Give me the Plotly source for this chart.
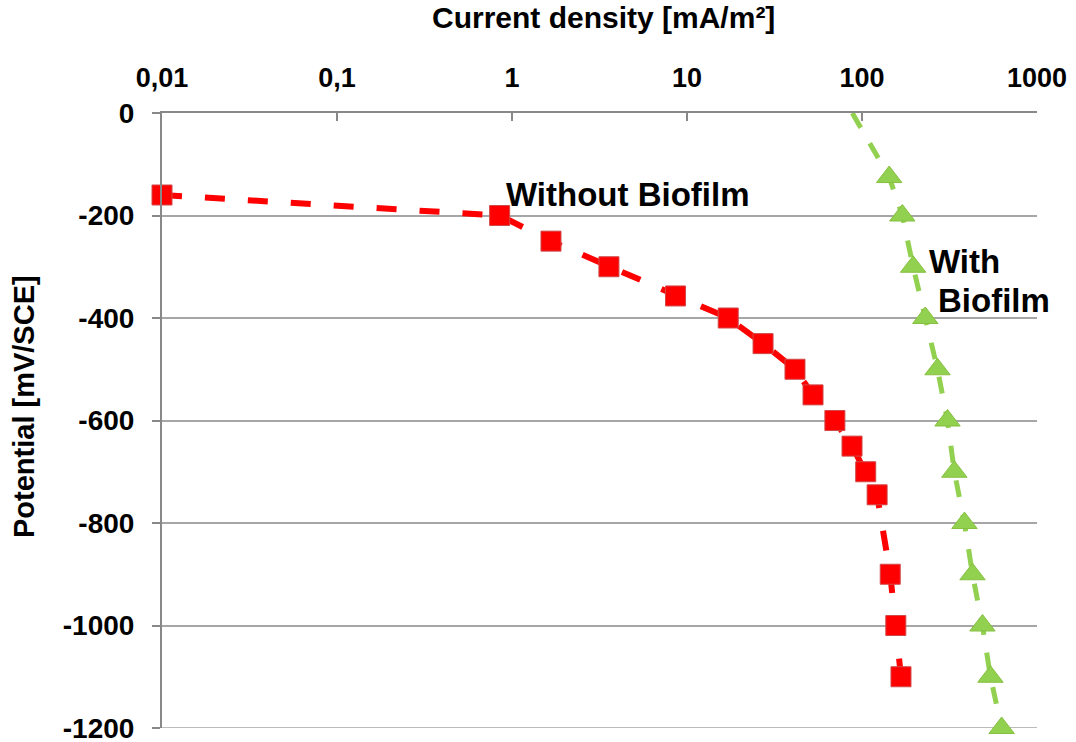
import plotly.graph_objects as go

# Data
x_ticks = [0.01, 0.1, 1, 10, 100, 1000]
x_tick_labels = ["0,01", "0,1", "1", "10", "100", "1000"]
y_ticks = [0, -200, -400, -600, -800, -1000, -1200]
y_tick_labels = ["0", "-200", "-400", "-600", "-800", "-1000", "-1200"]

without_x = [0.01, 0.85, 1.67, 3.58, 8.6, 17.2, 27.2, 41.4, 52.5, 70, 87.7, 105, 122, 145, 156, 167]
without_y = [-160, -200, -250, -300, -357, -400, -450, -500, -550, -600, -650, -700, -745, -900, -1000, -1100]

with_x = [88, 143, 170, 196, 230, 270, 308, 337, 385, 428, 488, 542, 628]
with_y = [0, -125, -200, -300, -400, -500, -600, -700, -800, -900, -1000, -1100, -1200]

RED = "#FF0000"
GREEN = "#92D050"
GRID = "#A6A6A6"
AXIS = "#888888"
FONT = "Liberation Sans, Arial, sans-serif"

W, H = 1076, 742
L, R, T, B = 162, 39, 113, 14
PW, PH = W - L - R, H - T - B


def px(xp):
    return (xp - L) / PW


def py(yp):
    return (H - B - yp) / PH


fig = go.Figure()

# Without biofilm: dashed line + square markers
fig.add_trace(go.Scatter(
    x=without_x, y=without_y, mode="lines",
    line=dict(color=RED, width=6, dash="20px,23px"),
    hoverinfo="skip", showlegend=False, cliponaxis=False,
))
fig.add_trace(go.Scatter(
    x=without_x, y=without_y, mode="markers",
    marker=dict(symbol="square", size=20, color=RED,
                line=dict(color="#D04848", width=1)),
    showlegend=False, cliponaxis=False,
))

# With biofilm: dashed line + triangle markers (first point has no marker)
fig.add_trace(go.Scatter(
    x=with_x, y=with_y, mode="lines",
    line=dict(color=GREEN, width=5, dash="17px,18px"),
    hoverinfo="skip", showlegend=False, cliponaxis=True,
))
fig.add_trace(go.Scatter(
    x=with_x[1:], y=with_y[1:], mode="markers",
    marker=dict(symbol="triangle-up", size=22, color=GREEN,
                line=dict(color="#86C040", width=1)),
    showlegend=False, cliponaxis=False,
))

fig.update_layout(
    width=W, height=H,
    margin=dict(l=L, r=R, t=T, b=B),
    paper_bgcolor="white", plot_bgcolor="white",
    font=dict(family=FONT, color="black", size=27),
    xaxis=dict(
        type="log", range=[-2, 3], side="top",
        tickvals=x_ticks, ticktext=x_tick_labels,
        ticks="inside", ticklen=8, tickwidth=1.5, tickcolor=AXIS,
        showline=True, linecolor=AXIS, linewidth=2,
        showgrid=False, zeroline=False, automargin=False,
        tickfont=dict(family=FONT, size=27, weight="bold"),
        ticklabelstandoff=13, ticklabeloverflow="allow",
    ),
    yaxis=dict(
        range=[-1200, 0], tickvals=y_ticks, ticktext=y_tick_labels,
        ticks="outside", ticklen=8, tickwidth=1.5, tickcolor=AXIS,
        showline=True, linecolor=AXIS, linewidth=2,
        showgrid=True, gridcolor=GRID, gridwidth=1.5,
        zeroline=False, automargin=False,
        tickfont=dict(family=FONT, size=28, weight="bold"),
        ticklabelstandoff=12, ticklabeloverflow="allow",
    ),
    shapes=[
        dict(type="line", xref="paper", yref="y", x0=0, x1=1,
             y0=y_ticks[-1], y1=y_ticks[-1],
             line=dict(color=GRID, width=1.5), layer="below"),
    ],
    annotations=[
        dict(text="Current density [mA/m²]", xref="paper", yref="paper",
             x=px(603), y=py(17), xanchor="center", yanchor="middle",
             showarrow=False, font=dict(family=FONT, size=30, weight="bold")),
        dict(text="Potential [mV/SCE]", xref="paper", yref="paper",
             x=px(24), y=py(407), xanchor="center", yanchor="middle",
             textangle=-90, showarrow=False,
             font=dict(family=FONT, size=29, weight="bold")),
        dict(text="Without Biofilm", xref="paper", yref="paper",
             x=px(504), y=py(194), xanchor="left", yanchor="middle",
             showarrow=False, font=dict(family=FONT, size=33, weight="bold")),
        dict(text="With", xref="paper", yref="paper",
             x=px(927), y=py(261), xanchor="left", yanchor="middle",
             showarrow=False, font=dict(family=FONT, size=33, weight="bold")),
        dict(text="Biofilm", xref="paper", yref="paper",
             x=px(936), y=py(300), xanchor="left", yanchor="middle",
             showarrow=False, font=dict(family=FONT, size=33, weight="bold")),
    ],
)

fig.write_html("out.html")
